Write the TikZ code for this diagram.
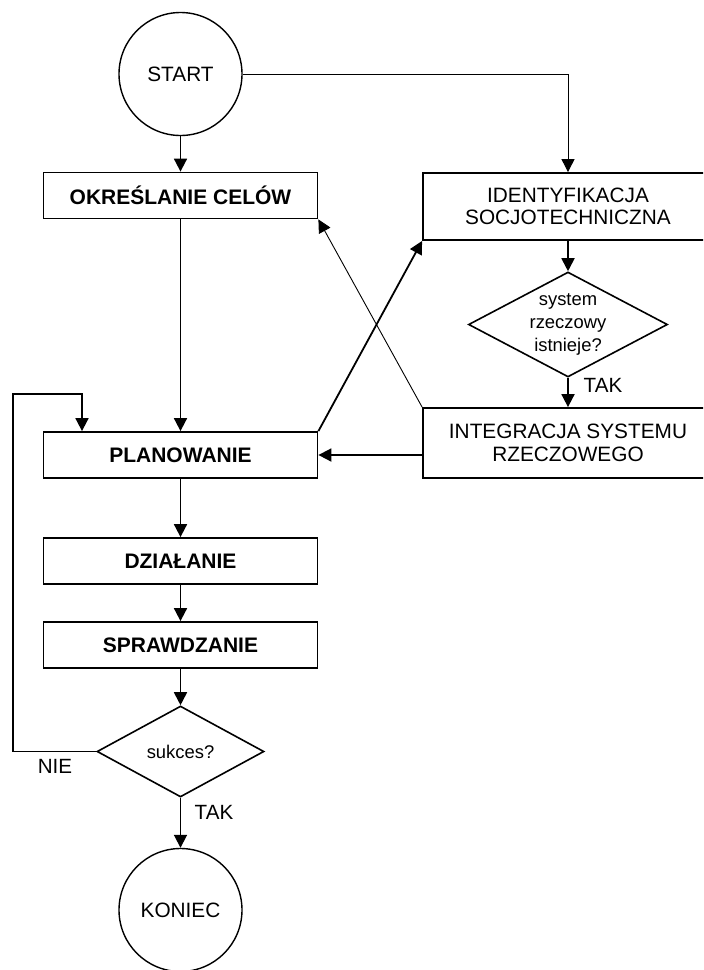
\documentclass[tikz,border=0pt]{standalone}
\usepackage{fontspec}
\setmainfont{Liberation Sans}
\usetikzlibrary{arrows.meta,shapes.geometric}

\tikzset{
  base/.style={font=\fontsize{10.4}{11.3}\selectfont, align=center, inner sep=0pt},
  term/.style={base, draw, circle, line width=0.7pt, minimum size=61.5pt},
  proc/.style={base, draw, rectangle, line width=0.9pt, minimum width=137pt, minimum height=23pt},
  wideproc/.style={base, draw, rectangle, line width=0.9pt, minimum width=145pt},
  bolded/.style={font=\fontsize{10.5}{11.3}\selectfont\bfseries},
  decision/.style={draw, diamond, line width=0.8pt, inner sep=0pt, align=center,
    font=\fontsize{9.2}{11.5}\selectfont},
  lbl/.style={font=\fontsize{10.3}{11.3}\selectfont, inner sep=0pt},
  tip/.style={-{Triangle[length=6.5pt,width=6.5pt]}},
  flow/.style={tip, line width=0.9pt},
  thinflow/.style={tip, line width=0.45pt},
}

\begin{document}
\begin{tikzpicture}[x=0.5pt,y=-0.5pt]
\useasboundingbox (0,0) rectangle (703,970);
\clip (0,0) rectangle (703,970);

% left column
\node[term] (start) at (180.5,74) {START};
\node[proc, bolded] (cele) at (180.5,195.5) {OKREŚLANIE CELÓW};
\node[proc, bolded] (plan) at (180.5,455) {PLANOWANIE};
\node[proc, bolded] (dzial) at (180.5,561) {DZIAŁANIE};
\node[proc, bolded] (spraw) at (180.5,645) {SPRAWDZANIE};
\node[decision, aspect=1.84, minimum width=83.5pt, minimum height=45.5pt] (sukces) at (180.5,751.5) {sukces?};
\node[term] (koniec) at (180.5,910) {KONIEC};

% right column
\node[wideproc, minimum height=33.5pt] (ident) at (568,206.5) {IDENTYFIKACJA\\SOCJOTECHNICZNA};
\node[decision, aspect=1.9, minimum width=99.5pt, minimum height=52.5pt] (istn) at (568,324.5) {system\\rzeczowy\\istnieje?};
\node[wideproc, minimum height=35pt] (integ) at (568,443) {INTEGRACJA SYSTEMU\\RZECZOWEGO};

% labels
\node[lbl] (tak1) at (603,385) {TAK};
\node[lbl] (tak2) at (214,812) {TAK};
\node[lbl] (nie) at (55,766) {NIE};

% loop-back corners
\coordinate (loopa) at (13,394);
\coordinate (loopb) at (82,394);

% connectors
\draw[flow] (start.south) -- (cele.north);
\draw[thinflow] (start.east) -| (ident.north);
\draw[flow] (cele.south) -- (plan.north);
\draw[flow] (plan.north east) -- (ident.south west);
\draw[thinflow] (integ.north west) -- (cele.south east);
\draw[flow] (ident.south) -- (istn.north);
\draw[flow] (istn.south) -- (integ.north);
\draw[flow] (plan.east -| integ.west) -- (plan.east);
\draw[flow] (plan.south) -- (dzial.north);
\draw[flow] (dzial.south) -- (spraw.north);
\draw[flow] (spraw.south) -- (sukces.north);
\draw[flow] (sukces.south) -- (koniec.north);
\draw[flow] (sukces.west) -| (loopa) -- (loopb) -- (loopb |- plan.north);
\end{tikzpicture}
\end{document}
